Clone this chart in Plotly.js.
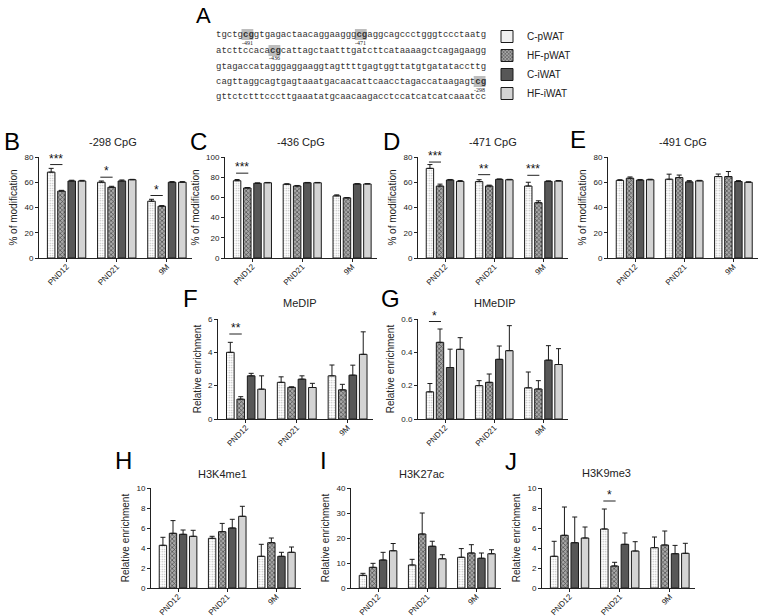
<!DOCTYPE html>
<html><head><meta charset="utf-8">
<script src="https://cdn.plot.ly/plotly-3.0.1.min.js"></script>
<style>body{margin:0;background:#fff}#chart{width:762px;height:616px}</style>
</head><body><div id="chart"></div>
<script>
// ---------- data ----------
const groups = ['PND12', 'PND21', '9M'];
const seriesNames = ['C-pWAT', 'HF-pWAT', 'C-iWAT', 'HF-iWAT'];

// rows: C-pWAT, HF-pWAT, C-iWAT, HF-iWAT ; columns: PND12, PND21, 9M
const B_mean = [[68, 60, 45], [53, 56, 41], [61, 61, 60], [61, 62, 60]];
const B_err  = [[3, 1, 1.5], [0.6, 0.8, 0.5], [0.6, 0.8, 0.5], [0.5, 0.3, 0.5]];
const C_mean = [[76.5, 73, 61.5], [69.3, 71.3, 59.5], [74, 74.5, 73.3], [74.5, 74.5, 73.3]];
const C_err  = [[1.2, 0.5, 1], [0.5, 0.5, 0.4], [0.3, 0.3, 0.3], [0.3, 0.3, 0.3]];
const D_mean = [[71, 60.5, 57], [57, 57, 43.8], [61.8, 62.3, 60.7], [60.7, 62, 61]];
const D_err  = [[3, 1.5, 3], [1.5, 0.7, 1.5], [0.4, 0.3, 0.4], [0.6, 0.3, 0.3]];
const E_mean = [[61.5, 62.4, 64.5], [63.2, 63.7, 64.5], [61.7, 60.3, 60.6], [62, 61.1, 60]];
const E_err  = [[0.5, 4, 2], [1, 2, 4], [0.5, 1, 0.7], [0.4, 0.4, 0.3]];
const F_mean = [[4.0, 2.2, 2.59], [1.19, 1.9, 1.75], [2.59, 2.39, 2.63], [1.79, 1.89, 3.88]];
const F_err  = [[0.6, 0.33, 0.65], [0.15, 0.03, 0.33], [0.15, 0.2, 0.6], [0.8, 0.25, 1.35]];
const G_mean = [[0.163, 0.2, 0.187], [0.46, 0.22, 0.18], [0.309, 0.358, 0.353], [0.418, 0.41, 0.327]];
const G_err  = [[0.05, 0.03, 0.095], [0.08, 0.05, 0.05], [0.11, 0.08, 0.087], [0.07, 0.15, 0.095]];
const H_mean = [[4.27, 4.97, 3.17], [5.47, 5.63, 4.53], [5.37, 6.0, 3.17], [5.17, 7.17, 3.57]];
const H_err  = [[0.8, 0.2, 1.2], [1.27, 0.83, 0.47], [0.43, 0.87, 0.4], [0.6, 1.0, 0.53]];
const I_mean = [[5.07, 9.2, 12.3], [8.27, 21.6, 14.0], [11.2, 16.7, 11.9], [14.9, 11.7, 13.7]];
const I_err  = [[0.8, 2.27, 3.47], [1.6, 8.4, 3.33], [3.07, 2.0, 2.1], [2.9, 1.6, 1.6]];
const J_mean = [[3.17, 5.9, 4.03], [5.27, 2.2, 4.3], [4.53, 4.37, 3.43], [5.0, 3.7, 3.47]];
const J_err  = [[1.5, 2.0, 1.07], [2.83, 0.37, 1.4], [2.57, 1.13, 0.83], [1.1, 0.93, 1.0]];

// significance: group index, bracket height, label
const B_sigG = [0, 1, 2], B_sigY = [74, 64, 49.5], B_sigT = ['***', '*', '*'];
const C_sigG = [0], C_sigY = [84], C_sigT = ['***'];
const D_sigG = [0, 1, 2], D_sigY = [76, 66, 65.5], D_sigT = ['***', '**', '***'];
const F_sigG = [0], F_sigY = [5.1], F_sigT = ['**'];
const G_sigG = [0], G_sigY = [0.585], G_sigT = ['*'];
const J_sigG = [1], J_sigY = [8.7], J_sigT = ['*'];

// sequence (panel A)
const seqLines = [
  'tgctgcggtgagactaacaggaagggcgaggcagccctgggtccctaatg',
  'atcttccacacgcattagctaatttgatcttcataaaagctcagagaagg',
  'gtagaccatagggaggaaggtagttttgagtggttatgtgatataccttg',
  'cagttaggcagtgagtaaatgacaacattcaacctagaccataagagtcg',
  'gttctctttcccttgaaatatgcaacaagacctccatcatcatcaaatcc'
];
const cpgLine = [0, 0, 1, 3];
const cpgIndex = [5, 26, 10, 48];
const cpgLabel = ['-491', '-471', '-436', '-298'];

// ---------- layout helpers ----------
const W = 762, Hh = 616;
const fx = p => p / W, fy = p => 1 - p / Hh;
const FONT = 'Liberation Sans, Arial, sans-serif';

const panels = [
  {L:'B', title:'-298 CpG', mean:B_mean, err:B_err, ymax:80, dtick:20, yt:'% of modification', sg:B_sigG, sy:B_sigY, st:B_sigT, px:[39,192], py:[157,258], lp:[12,141], tp:[113,142]},
  {L:'C', title:'-436 CpG', mean:C_mean, err:C_err, ymax:100, dtick:20, yt:'% of modification', sg:C_sigG, sy:C_sigY, st:C_sigT, px:[225,377], py:[157,258], lp:[198,141], tp:[301,142]},
  {L:'D', title:'-471 CpG', mean:D_mean, err:D_err, ymax:80, dtick:20, yt:'% of modification', sg:D_sigG, sy:D_sigY, st:D_sigT, px:[418,568], py:[157,258], lp:[391,141], tp:[493,142]},
  {L:'E', title:'-491 CpG', mean:E_mean, err:E_err, ymax:80, dtick:20, yt:'% of modification', sg:[], sy:[], st:[], px:[608,758], py:[157,258], lp:[578,139], tp:[683,142]},
  {L:'F', title:'MeDIP', mean:F_mean, err:F_err, ymax:6, dtick:2, yt:'Relative enrichment', sg:F_sigG, sy:F_sigY, st:F_sigT, px:[218,373], py:[319,419], lp:[190,298], tp:[300,303]},
  {L:'G', title:'HMeDIP', mean:G_mean, err:G_err, ymax:0.6, dtick:0.2, yt:'Relative enrichment', sg:G_sigG, sy:G_sigY, st:G_sigT, px:[418,568], py:[319,419], lp:[390,298], tp:[495,303], fmt:'.1f'},
  {L:'H', title:'H3K4me1', mean:H_mean, err:H_err, ymax:10, dtick:2, yt:'Relative enrichment', sg:[], sy:[], st:[], px:[151,301], py:[488,588], lp:[123,460], tp:[222,474]},
  {L:'I', title:'H3K27ac', mean:I_mean, err:I_err, ymax:40, dtick:10, yt:'Relative enrichment', sg:[], sy:[], st:[], px:[351,501], py:[488,588], lp:[323,460], tp:[422,474]},
  {L:'J', title:'H3K9me3', mean:J_mean, err:J_err, ymax:10, dtick:2, yt:'Relative enrichment', sg:J_sigG, sy:J_sigY, st:J_sigT, px:[542,695], py:[488,588], lp:[511,461], tp:[606,473]}
];

const barW = 0.15, pitch = 0.205;
const center = k => (k - 1.5) * pitch;

const styles = [
  {color:'#ffffff', pattern:{shape:'.', fgcolor:'#b5b5b5', bgcolor:'#ffffff', size:2.5, solidity:0.25}},
  {color:'#8c8c8c', pattern:{shape:'x', fgcolor:'#3a3a3a', bgcolor:'#a8a8a8', size:3, solidity:0.35}},
  {color:'#575757'},
  {color:'#d4d4d4'}
];

const traces = [];
const layout = {
  width: W, height: Hh,
  margin: {l:0, r:0, t:0, b:0},
  paper_bgcolor: '#fff', plot_bgcolor: 'rgba(0,0,0,0)',
  font: {family: FONT, size: 9, color: '#222'},
  barmode: 'overlay',
  showlegend: true,
  legend: {x: fx(487), y: fy(22), xanchor:'left', yanchor:'top', font:{size:10, family:FONT, color:'#222'}, bgcolor:'rgba(0,0,0,0)', tracegroupgap:0},
  annotations: [], shapes: []
};

panels.forEach((p, i) => {
  const n = i === 0 ? '' : String(i + 1);
  const xa = 'x' + n, ya = 'y' + n;
  p.mean.forEach((vals, k) => {
    const st = styles[k];
    const marker = {color: st.color, line:{color:'#1a1a1a', width:1}};
    if (st.pattern) marker.pattern = st.pattern;
    traces.push({
      type:'bar', x:[0,1,2], y:vals, name: seriesNames[k], legendgroup: seriesNames[k],
      showlegend: i === 0, xaxis: xa, yaxis: ya,
      width: barW, offset: center(k) - barW/2, marker: marker,
      error_y: {type:'data', array:p.err[k], arrayminus:[0,0,0], symmetric:false, color:'#1a1a1a', thickness:1, width:2.5},
      hoverinfo:'skip'
    });
  });
  layout['xaxis' + n] = {
    domain:[fx(p.px[0]), fx(p.px[1])], anchor: ya, range:[-0.55, 2.5],
    tickvals:[0,1,2], ticktext: groups, tickangle:-45, ticks:'outside', ticklen:3, tickcolor:'#222',
    showline:true, linecolor:'#222', linewidth:1, showgrid:false, zeroline:false,
    tickfont:{size:8, family:FONT, color:'#222'}, ticklabelstandoff:-3, fixedrange:true
  };
  layout['yaxis' + n] = {
    domain:[fy(p.py[1]), fy(p.py[0])], anchor: xa, range:[0, p.ymax], dtick:p.dtick, tick0:0,
    ticks:'outside', ticklen:3, tickcolor:'#222', showline:true, linecolor:'#222', linewidth:1,
    showgrid:false, zeroline:false, tickfont:{size:8, family:FONT, color:'#222'},
    tickformat: p.fmt || '', title:{text:p.yt, font:{size:10, family:FONT, color:'#222'}, standoff:4},
    fixedrange:true
  };
  layout.annotations.push({xref:'paper', yref:'paper', x:fx(p.lp[0]), y:fy(p.lp[1]), text:p.L, showarrow:false,
    font:{size:24, family:FONT, color:'#000'}, xanchor:'center', yanchor:'middle'});
  layout.annotations.push({xref:'paper', yref:'paper', x:fx(p.tp[0]), y:fy(p.tp[1]), text:p.title, showarrow:false,
    font:{size:11, family:FONT, color:'#222'}, xanchor:'center', yanchor:'middle'});
  p.sg.forEach((g, s) => {
    const x0 = g + center(0) - 0.02, x1 = g + center(1) + 0.02;
    layout.shapes.push({type:'line', xref:xa, yref:ya, x0:x0, x1:x1, y0:p.sy[s], y1:p.sy[s], line:{color:'#222', width:1}});
    layout.annotations.push({xref:xa, yref:ya, x:(x0 + x1)/2, y:p.sy[s], text:p.st[s], showarrow:false,
      font:{size:12, family:FONT, color:'#111'}, xanchor:'center', yanchor:'bottom', yshift:-3});
  });
});

// Panel A
layout.annotations.push({xref:'paper', yref:'paper', x:fx(203), y:fy(2), text:'A', showarrow:false,
  font:{size:22, family:FONT, color:'#000'}, xanchor:'center', yanchor:'top', borderpad:0});
const lineY = [35, 51, 67, 82, 97];
const seqX = 215, cw = 5.4;
seqLines.forEach((s, li) => {
  let html = '';
  let idx = 0;
  const marks = cpgIndex.filter((c, m) => cpgLine[m] === li);
  while (idx < s.length) {
    if (marks.includes(idx)) { html += '<b>' + s.substr(idx, 2) + '</b>'; idx += 2; }
    else { html += s[idx]; idx += 1; }
  }
  layout.annotations.push({xref:'paper', yref:'paper', x:fx(seqX), y:fy(lineY[li]), text:html, showarrow:false,
    font:{size:9, family:'Liberation Mono, Courier New, monospace', color:'#333'}, xanchor:'left', yanchor:'middle',
    borderpad:0});
});
cpgIndex.forEach((c, m) => {
  const ly = lineY[cpgLine[m]];
  const x0 = seqX + c * cw - 0.5, x1 = x0 + 2 * cw + 1;
  layout.shapes.push({type:'rect', xref:'paper', yref:'paper', layer:'below', x0:fx(x0), x1:fx(x1), y0:fy(ly + 5), y1:fy(ly - 6),
    fillcolor:'#bdbdbd', line:{width:0}});
  layout.annotations.push({xref:'paper', yref:'paper', x:fx((x0 + x1)/2), y:fy(ly + 7.5), text:cpgLabel[m], showarrow:false,
    font:{size:6, family:'Liberation Serif, Times New Roman, serif', color:'#222'}, xanchor:'center', yanchor:'middle', borderpad:0});
});

Plotly.newPlot('chart', traces, layout, {staticPlot:true, displayModeBar:false});
</script>
</body></html>
